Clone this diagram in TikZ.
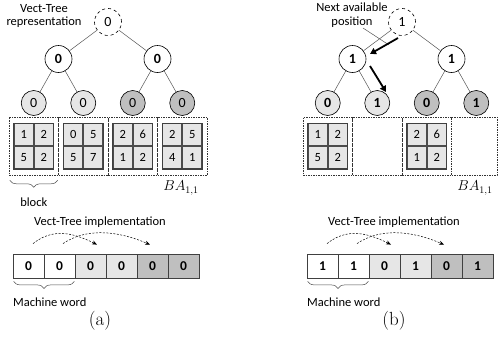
\documentclass[tikz,border=0pt]{standalone}
\usepackage{fontspec}
\newfontfamily\carl{Carlito}
\usetikzlibrary{decorations.pathreplacing,arrows.meta}
\definecolor{lg}{HTML}{E6E6E6}
\definecolor{dg}{HTML}{BFBFBF}
\definecolor{edgec}{HTML}{555555}
\newcommand\blkmat[5]{%
  \node[mc,anchor=south east] (#1a) at (#1) {#2};
  \node[mc,anchor=south west] (#1b) at (#1) {#3};
  \node[mc,anchor=north east] (#1c) at (#1) {#4};
  \node[mc,anchor=north west] (#1d) at (#1) {#5};
  \draw[line width=1.2pt,draw=black!75] (#1a.north west) rectangle (#1d.south east);}
\begin{document}
\begin{tikzpicture}[x=1pt,y=-1pt,
  tn/.style={circle,draw=black,line width=0.6pt,minimum size=27pt,inner sep=0pt,font=\carl\fontsize{14}{14}\selectfont},
  tnb/.style={tn,font=\carl\bfseries\fontsize{14}{14}\selectfont},
  lf/.style={tn,minimum size=25pt},
  lfb/.style={tnb,minimum size=25pt},
  edge/.style={draw=edgec,line width=0.5pt},
  blk/.style={draw=black!80,dash pattern=on 1.5pt off 1pt,line width=0.6pt,minimum width=49.5pt,minimum height=58pt,inner sep=0pt},
  mc/.style={draw=black!70,fill=lg,line width=0.9pt,minimum width=19pt,minimum height=22pt,inner sep=0pt,font=\carl\fontsize{12.5}{12.5}\selectfont},
  wc/.style={draw=black!75,line width=0.8pt,minimum width=31pt,minimum height=24pt,inner sep=0pt,font=\carl\bfseries\fontsize{13.5}{13.5}\selectfont},
  lab/.style={font=\carl\fontsize{12.5}{13.5}\selectfont,align=center,inner sep=0pt},
  brc/.style={draw=black!70,line width=0.5pt,decorate,decoration={brace,mirror,amplitude=7pt}},
  darc/.style={draw=black,line width=0.5pt,dash pattern=on 2pt off 1.5pt,-{Stealth[length=5pt,width=4pt]}},
  thk/.style={draw=black,line width=1.8pt,-{Triangle[length=6pt,width=6.5pt]}},
  captxt/.style={font=\fontsize{19}{19}\selectfont,inner sep=0pt},
  ba/.style={font=\fontsize{14}{14}\selectfont,inner sep=0pt}]
\useasboundingbox (0,0) rectangle (498,343);

% ---------------- panel (a) ----------------
\node[lab] (at) at (44,16) {Vect-Tree\\representation};
\node[tn,dashed] (ar) at (108,22) {0};
\node[tnb] (an1) at (58.5,59) {0};
\node[tnb] (an2) at (157.5,59) {0};
\node[lf,fill=lg] (al1) at (33.75,103) {0};
\node[lf,fill=lg] (al2) at (83.25,103) {0};
\node[lf,fill=dg] (al3) at (132.75,103) {0};
\node[lf,fill=dg] (al4) at (182.25,103) {0};
\draw[edge] (ar) -- (an1);
\draw[edge] (ar) -- (an2);
\draw[edge] (an1) -- (al1);
\draw[edge] (an1) -- (al2);
\draw[edge] (an2) -- (al3);
\draw[edge] (an2) -- (al4);

\node[blk] (ab1) at (33.75,146) {};
\node[blk] (ab2) at (83.25,146) {};
\node[blk] (ab3) at (132.75,146) {};
\node[blk] (ab4) at (182.25,146) {};
\coordinate (am1) at (33.75,146);
\coordinate (am2) at (83.25,146);
\coordinate (am3) at (132.75,146);
\coordinate (am4) at (182.25,146);
\blkmat{am1}{1}{2}{5}{2}
\blkmat{am2}{0}{5}{5}{7}
\blkmat{am3}{2}{6}{1}{2}
\blkmat{am4}{2}{5}{4}{1}

\draw[brc] ([xshift=1pt,yshift=-5pt]ab1.south west) -- ([xshift=-1pt,yshift=-5pt]ab1.south east);
\node[lab] (ablk) at (33.75,202) {block};
\node[ba] (aba) at (181,188) {$BA_{1,1}$};

\node[lab] (ait) at (100,222) {Vect-Tree implementation};
\node[wc] (aw1) at (28.5,266) {0};
\node[wc,fill=white] (aw2) at (59.5,266) {0};
\node[wc,fill=lg] (aw3) at (90.5,266) {0};
\node[wc,fill=lg] (aw4) at (121.5,266) {0};
\node[wc,fill=dg] (aw5) at (152.5,266) {0};
\node[wc,fill=dg] (aw6) at (183.5,266) {0};
\draw[darc] ([xshift=4.5pt,yshift=10pt]aw1.north) .. controls +(18,-14) and +(-28,-14) .. ([xshift=6.5pt,yshift=9pt]aw3.north);
\draw[darc] ([xshift=3.5pt,yshift=10pt]aw2.north) .. controls +(22,-15) and +(-35,-15) .. ([xshift=-2.5pt,yshift=9pt]aw5.north);
\draw[brc] ([xshift=1pt,yshift=-3pt]aw1.south west) -- ([xshift=-1pt,yshift=-3pt]aw2.south east);
\node[lab,anchor=west] (amw) at (13,302) {Machine word};
\node[captxt] (acap) at (100,321) {(a)};

% ---------------- panel (b) ----------------
\node[lab] (bt) at (352,15) {Next available\\position};
\node[tn,dashed] (br) at (402,22) {1};
\node[tnb] (bn1) at (352.5,59) {1};
\node[tnb] (bn2) at (451.5,59) {1};
\node[lfb,fill=lg] (bl1) at (327.75,103) {0};
\node[lfb,fill=lg] (bl2) at (377.25,103) {1};
\node[lfb,fill=dg] (bl3) at (426.75,103) {0};
\node[lfb,fill=dg] (bl4) at (476.25,103) {1};
\draw[edge] (br) -- (bn1);
\draw[edge] (br) -- (bn2);
\draw[edge] (bn1) -- (bl1);
\draw[edge] (bn1) -- (bl2);
\draw[edge] (bn2) -- (bl3);
\draw[edge] (bn2) -- (bl4);

\coordinate (ba1s) at (398,38);
\coordinate (ba1e) at (370,54);
\coordinate (ba2s) at (370,66);
\coordinate (ba2e) at (386,92);
\coordinate (bptrs) at (363,28);
\coordinate (bptr) at (389,45);
\draw[edge] (bptrs) -- (bptr);
\draw[thk] (ba1s) -- (ba1e);
\draw[thk] (ba2s) -- (ba2e);

\node[blk] (bb1) at (327.75,146) {};
\node[blk] (bb2) at (377.25,146) {};
\node[blk] (bb3) at (426.75,146) {};
\node[blk,minimum width=45.5pt] (bb4) at (474.25,146) {};
\coordinate (bm1) at (327.75,146);
\coordinate (bm3) at (426.75,146);
\blkmat{bm1}{1}{2}{5}{2}
\blkmat{bm3}{2}{6}{1}{2}
\node[ba] (bba) at (475,188) {$BA_{1,1}$};

\node[lab] (bit) at (394,222) {Vect-Tree implementation};
\node[wc] (bw1) at (322.5,266) {1};
\node[wc] (bw2) at (353.5,266) {1};
\node[wc,fill=lg] (bw3) at (384.5,266) {0};
\node[wc,fill=lg] (bw4) at (415.5,266) {1};
\node[wc,fill=dg] (bw5) at (446.5,266) {0};
\node[wc,fill=dg] (bw6) at (477.5,266) {1};
\draw[darc] ([xshift=4.5pt,yshift=10pt]bw1.north) .. controls +(18,-14) and +(-28,-14) .. ([xshift=6.5pt,yshift=9pt]bw3.north);
\draw[darc] ([xshift=3.5pt,yshift=10pt]bw2.north) .. controls +(22,-15) and +(-35,-15) .. ([xshift=-2.5pt,yshift=9pt]bw5.north);
\draw[brc] ([xshift=1pt,yshift=-3pt]bw1.south west) -- ([xshift=-1pt,yshift=-3pt]bw2.south east);
\node[lab,anchor=west] (bmw) at (307,302) {Machine word};
\node[captxt] (bcap) at (394,321) {(b)};
\end{tikzpicture}
\end{document}
